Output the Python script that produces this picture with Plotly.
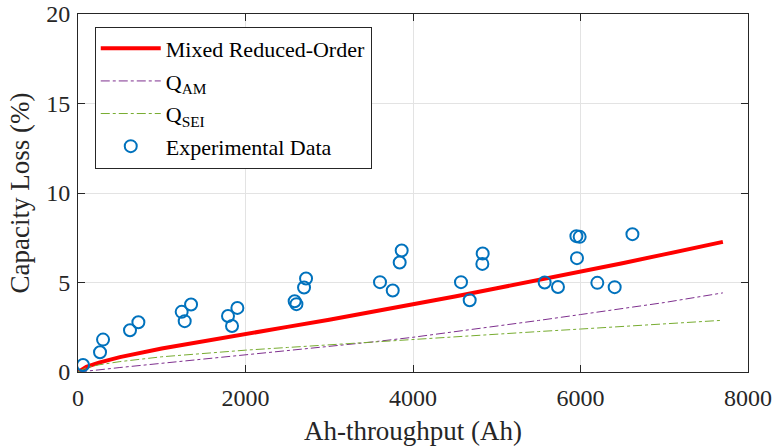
import plotly.graph_objects as go

# Experimental capacity-loss measurements
exp_ah = [60, 263, 299, 621, 721, 1238, 1274, 1350, 1791, 1839, 1903,
          2587, 2608, 2699, 2723, 3606, 3758, 3841, 3865, 4573, 4677,
          4828, 4832, 5572, 5731, 5951, 5990, 5958, 6201, 6408, 6620]
exp_loss = [0.39, 1.10, 1.81, 2.33, 2.78, 3.36, 2.84, 3.77, 3.13, 2.57, 3.58,
            3.95, 3.79, 4.72, 5.22, 5.02, 4.55, 6.12, 6.79, 5.02, 4.01,
            6.04, 6.62, 5.00, 4.75, 7.59, 7.55, 6.36, 4.98, 4.74, 7.70]

# Model curves sampled along Ah-throughput
model_ah = [0, 100, 250, 500, 1000, 1500, 2000, 2500, 3000, 3500, 4000,
            4500, 5000, 5500, 6000, 6500, 7000, 7700]
mixed = [0, 0.29, 0.52, 0.83, 1.31, 1.73, 2.12, 2.52, 2.92, 3.34, 3.78,
         4.22, 4.68, 5.13, 5.60, 6.08, 6.57, 7.27]
q_am = [0, 0.04, 0.12, 0.25, 0.48, 0.72, 0.96, 1.18, 1.42, 1.67, 1.94,
        2.24, 2.56, 2.88, 3.21, 3.54, 3.88, 4.42]
q_sei = [0, 0.25, 0.40, 0.58, 0.85, 1.05, 1.22, 1.37, 1.52, 1.69, 1.85,
         1.99, 2.12, 2.26, 2.40, 2.54, 2.68, 2.89]

FONT = "Liberation Serif"

fig = go.Figure()
fig.add_trace(go.Scatter(x=model_ah, y=mixed, mode="lines", name="Mixed Reduced-Order",
                         legendgroup="a",
                         line=dict(color="#FF0000", width=4)))
fig.add_trace(go.Scatter(x=model_ah, y=q_am, mode="lines", name="Q<sub>AM</sub>",
                         legendgroup="b",
                         line=dict(color="#7E2F8E", width=1, dash="dashdot")))
fig.add_trace(go.Scatter(x=model_ah, y=q_sei, mode="lines", name="Q<sub>SEI</sub>",
                         legendgroup="c",
                         line=dict(color="#77AC30", width=1, dash="dashdot")))
fig.add_trace(go.Scatter(x=exp_ah, y=exp_loss, mode="markers", name="Experimental Data",
                         legendgroup="d",
                         marker=dict(symbol="circle-open", size=12, color="#0072BD",
                                     line=dict(width=2, color="#0072BD"))))

axis_common = dict(
    showline=True, linecolor="#262626", linewidth=1, mirror="ticks",
    ticks="inside", ticklen=7, tickcolor="#262626",
    showgrid=True, gridcolor="#E3E3E3", gridwidth=1, zeroline=False,
    tickfont=dict(family=FONT, size=24, color="#262626"),
    automargin=False,
)

fig.update_layout(
    width=775, height=448,
    margin=dict(l=78, r=27, t=14, b=76),
    paper_bgcolor="white", plot_bgcolor="white",
    font=dict(family=FONT, color="#262626"),
    xaxis=dict(range=[0, 8000], tickvals=[0, 2000, 4000, 6000, 8000],
               ticklabelstandoff=4,
               title=dict(text="Ah-throughput (Ah)", font=dict(family=FONT, size=27), standoff=11),
               **axis_common),
    yaxis=dict(range=[0, 20], tickvals=[0, 5, 10, 15, 20],
               ticklabelstandoff=2,
               title=dict(text="Capacity Loss (%)", font=dict(family=FONT, size=27), standoff=8),
               **axis_common),
    legend=dict(x=0.025, y=0.965, xanchor="left", yanchor="top",
                bgcolor="white", bordercolor="#262626", borderwidth=1,
                font=dict(family=FONT, size=22, color="black"),
                itemwidth=60, traceorder="grouped", tracegroupgap=1),
    showlegend=True,
)

fig.write_html("out.html")
